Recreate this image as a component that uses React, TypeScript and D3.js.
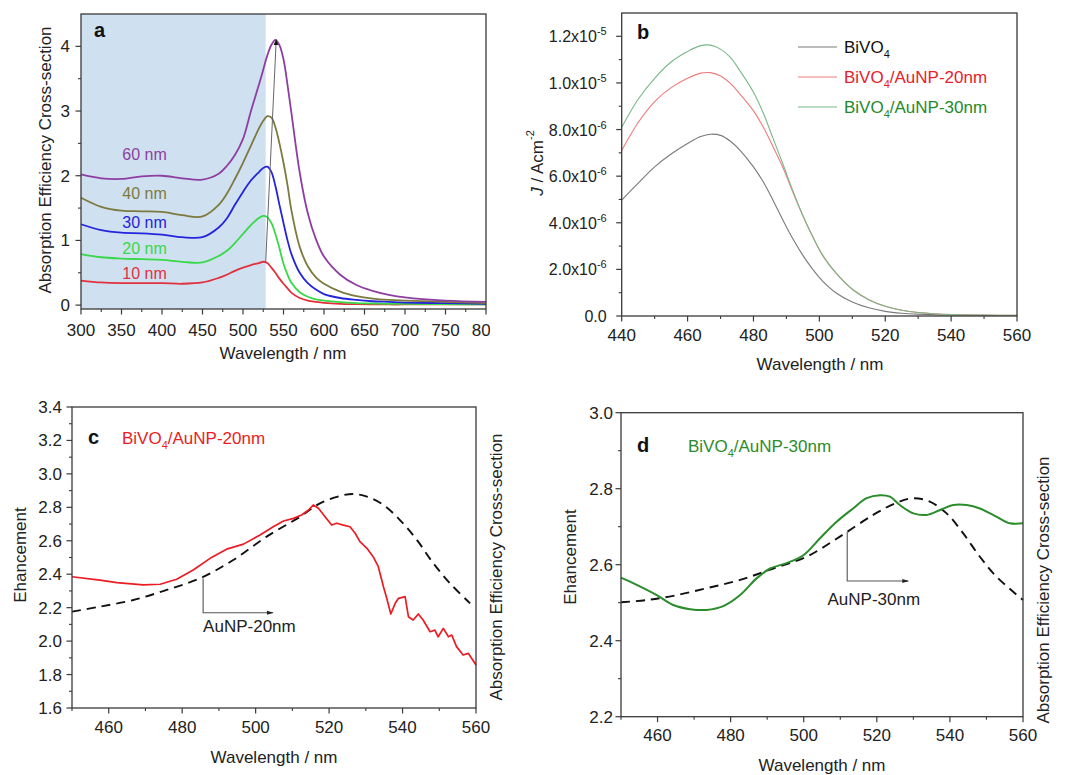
import React from "react";
import * as d3 from "d3";

const FONT = "'Liberation Sans', Arial, Helvetica, sans-serif";

// ---------------- Panel a : absorption efficiency ----------------
const waveA = [300, 325, 350, 375, 400, 425, 450, 470, 480, 490, 500, 510, 520, 525, 530, 535, 540, 545, 550, 555, 560, 570, 580, 590, 600, 620, 640, 660, 680, 700, 750, 800];
const absA10 = [0.38, 0.35, 0.34, 0.34, 0.34, 0.33, 0.35, 0.42, 0.47, 0.53, 0.58, 0.62, 0.65, 0.67, 0.65, 0.58, 0.50, 0.41, 0.33, 0.26, 0.19, 0.11, 0.07, 0.05, 0.035, 0.02, 0.015, 0.012, 0.01, 0.01, 0.01, 0.01];
const absA20 = [0.79, 0.74, 0.72, 0.71, 0.70, 0.67, 0.66, 0.76, 0.84, 0.96, 1.10, 1.24, 1.35, 1.38, 1.36, 1.27, 1.10, 0.88, 0.64, 0.47, 0.34, 0.20, 0.13, 0.09, 0.07, 0.045, 0.03, 0.025, 0.02, 0.018, 0.014, 0.01];
const absA30 = [1.25, 1.16, 1.12, 1.11, 1.09, 1.05, 1.05, 1.20, 1.34, 1.55, 1.75, 1.93, 2.06, 2.12, 2.14, 2.06, 1.84, 1.55, 1.27, 1.00, 0.78, 0.50, 0.34, 0.24, 0.17, 0.11, 0.08, 0.06, 0.05, 0.04, 0.03, 0.02];
const absA40 = [1.66, 1.52, 1.46, 1.45, 1.44, 1.39, 1.37, 1.55, 1.72, 1.95, 2.20, 2.47, 2.74, 2.85, 2.92, 2.90, 2.75, 2.50, 2.20, 1.85, 1.45, 0.90, 0.60, 0.43, 0.33, 0.21, 0.14, 0.10, 0.08, 0.07, 0.05, 0.03];
const absA60 = [2.02, 1.96, 1.95, 1.99, 2.00, 1.96, 1.94, 2.03, 2.15, 2.32, 2.57, 3.01, 3.42, 3.64, 3.86, 4.02, 4.10, 4.02, 3.80, 3.40, 2.95, 2.05, 1.42, 1.02, 0.75, 0.47, 0.31, 0.22, 0.16, 0.12, 0.07, 0.05];
const seriesA = [absA10, absA20, absA30, absA40, absA60];
const labelsA = ["10 nm", "20 nm", "30 nm", "40 nm", "60 nm"];
const colorsA = ["#e2303c", "#38d848", "#2424dc", "#7c7a3e", "#8e3ea0"];
const labelValA = [0.40, 0.79, 1.19, 1.64, 2.25];
const xTicksA = [300, 350, 400, 450, 500, 550, 600, 650, 700, 750, 800];
const yTicksA = [0, 1, 2, 3, 4];
const shadeEndA = 528;
const peakArrowA = [[528, 0.67], [541, 4.1]];

// ---------------- Panel b : photocurrent ----------------
const waveB = [440, 445, 450, 455, 460, 464, 467, 470, 473, 476, 480, 483, 486, 489, 492, 495, 498, 501, 505, 510, 515, 520, 525, 530, 540, 550, 560];
const jBiVO4 = [4.97e-6, 5.7e-6, 6.4e-6, 6.95e-6, 7.4e-6, 7.7e-6, 7.8e-6, 7.75e-6, 7.5e-6, 7.1e-6, 6.4e-6, 5.75e-6, 4.95e-6, 4.1e-6, 3.3e-6, 2.6e-6, 2.0e-6, 1.5e-6, 1.0e-6, 0.6e-6, 0.35e-6, 0.2e-6, 0.12e-6, 0.08e-6, 0.04e-6, 0.02e-6, 0.02e-6];
const jAu20 = [7.1e-6, 8.3e-6, 9.2e-6, 9.8e-6, 10.2e-6, 10.42e-6, 10.44e-6, 10.3e-6, 9.98e-6, 9.5e-6, 8.8e-6, 8.1e-6, 7.25e-6, 6.35e-6, 5.3e-6, 4.3e-6, 3.4e-6, 2.6e-6, 1.85e-6, 1.15e-6, 0.7e-6, 0.42e-6, 0.25e-6, 0.15e-6, 0.06e-6, 0.04e-6, 0.03e-6];
const jAu30 = [8.1e-6, 9.3e-6, 10.2e-6, 10.9e-6, 11.35e-6, 11.6e-6, 11.62e-6, 11.45e-6, 11.1e-6, 10.5e-6, 9.6e-6, 8.7e-6, 7.6e-6, 6.5e-6, 5.35e-6, 4.3e-6, 3.4e-6, 2.6e-6, 1.85e-6, 1.15e-6, 0.7e-6, 0.42e-6, 0.25e-6, 0.15e-6, 0.06e-6, 0.04e-6, 0.03e-6];
const seriesB = [jBiVO4, jAu20, jAu30];
const lineColorsB = ["#7a7a7a", "#f07a7a", "#78b888"];
const textColorsB = ["#111111", "#e8202c", "#1f8a2c"];
const legendB = [["BiVO", "4", ""], ["BiVO", "4", "/AuNP-20nm"], ["BiVO", "4", "/AuNP-30nm"]];
const xTicksB = [440, 460, 480, 500, 520, 540, 560];
const yTicksB = [0, 2e-6, 4e-6, 6e-6, 8e-6, 1.0e-5, 1.2e-5];
const yTickLabelsB = [["0.0", ""], ["2.0x10", "-6"], ["4.0x10", "-6"], ["6.0x10", "-6"], ["8.0x10", "-6"], ["1.0x10", "-5"], ["1.2x10", "-5"]];

// ---------------- Panel c : enhancement 20 nm ----------------
const waveCRed = [450, 457.6, 462.2, 469.4, 474, 478.5, 483, 487.6, 492.1, 496.7, 501.2, 504.8, 507.6, 510.3, 512.5, 514.4, 515.7, 517.1, 518.9, 520.7, 522.1, 523.9, 525.7, 527.1, 528.4, 530.3, 532, 533.4, 534.8, 535.7, 536.8, 538, 538.9, 540.7, 541.6, 542.9, 544.3, 545.6, 547.5, 548.8, 549.7, 551.1, 552.5, 553.4, 554.7, 556.5, 557.9, 560];
const enhC = [2.385, 2.365, 2.35, 2.336, 2.34, 2.37, 2.425, 2.495, 2.55, 2.58, 2.635, 2.684, 2.718, 2.734, 2.754, 2.784, 2.814, 2.794, 2.744, 2.694, 2.705, 2.694, 2.684, 2.645, 2.595, 2.555, 2.505, 2.445, 2.325, 2.256, 2.162, 2.226, 2.256, 2.266, 2.146, 2.126, 2.162, 2.126, 2.056, 2.066, 2.026, 2.076, 2.026, 2.036, 1.967, 1.917, 1.927, 1.857];
const waveCDash = [450, 457.6, 466.7, 475.8, 484.9, 493.9, 503, 512.1, 517.5, 523, 526.6, 530.3, 534.8, 539.3, 543.9, 548.4, 552.9, 558.4];
const absC = [2.176, 2.206, 2.246, 2.306, 2.376, 2.485, 2.625, 2.744, 2.824, 2.868, 2.88, 2.864, 2.814, 2.724, 2.605, 2.465, 2.346, 2.226];
const xTicksCD = [460, 480, 500, 520, 540, 560];
const yTicksC = [1.6, 1.8, 2.0, 2.2, 2.4, 2.6, 2.8, 3.0, 3.2, 3.4];
const annoC = { x: 485.7, y0: 2.375, y1: 2.17, x1: 504.7, tx: 485.7, ty: 2.055, text: "AuNP-20nm" };

// ---------------- Panel d : enhancement 30 nm ----------------
const waveDGreen = [450, 454.3, 459.8, 464.3, 468.9, 473.4, 478, 482.6, 487.1, 490.8, 495.3, 499.9, 504.4, 509, 513.5, 517.2, 520.9, 523.6, 526.3, 530, 533.6, 537.3, 540.9, 544.6, 548.2, 552.8, 556.4, 560];
const enhD = [2.566, 2.547, 2.52, 2.494, 2.483, 2.481, 2.491, 2.52, 2.564, 2.59, 2.604, 2.625, 2.669, 2.713, 2.748, 2.775, 2.783, 2.779, 2.757, 2.735, 2.731, 2.744, 2.757, 2.757, 2.748, 2.726, 2.709, 2.709];
const waveDDash = [450, 457, 464.3, 473.4, 482.6, 491.7, 500.8, 509.9, 519, 525.4, 530, 534.5, 539.1, 543.6, 548.2, 552.8, 560];
const absD = [2.501, 2.507, 2.518, 2.538, 2.56, 2.59, 2.621, 2.674, 2.731, 2.763, 2.775, 2.766, 2.735, 2.683, 2.621, 2.568, 2.507];
const yTicksD = [2.2, 2.4, 2.6, 2.8, 3.0];
const annoD = { x: 511.9, y0: 2.687, y1: 2.557, x1: 528.6, tx: 506.5, ty: 2.494, text: "AuNP-30nm" };

const AX = "#3a3a3a";
const fmt1 = d3.format(".1f");

type Frame = { l: number; r: number; t: number; b: number };

function Box({ f }: { f: Frame }) {
  return <rect x={f.l} y={f.t} width={f.r - f.l} height={f.b - f.t} fill="none" stroke={AX} strokeWidth={1.3} />;
}

function XTicks({ x, f, major, minor, labelDy, clip, fontSize = 17 }: any) {
  return (
    <g>
      {minor.map((v: number) => (
        <line key={"m" + v} x1={x(v)} x2={x(v)} y1={f.b} y2={f.b + 3} stroke={AX} strokeWidth={1.1} />
      ))}
      {major.map((v: number) => (
        <line key={"M" + v} x1={x(v)} x2={x(v)} y1={f.b} y2={f.b + 5.5} stroke={AX} strokeWidth={1.2} />
      ))}
      <g clipPath={clip ? `url(#${clip})` : undefined}>
        {major.map((v: number) => (
          <text key={"t" + v} x={x(v)} y={f.b + labelDy} textAnchor="middle" fontSize={fontSize} fill="#222">
            {v}
          </text>
        ))}
      </g>
    </g>
  );
}

function YTicks({ y, f, major, minor, gap, fmt, fontSize = 17 }: any) {
  return (
    <g>
      {minor.map((v: number) => (
        <line key={"m" + v} x1={f.l - 3} x2={f.l} y1={y(v)} y2={y(v)} stroke={AX} strokeWidth={1.1} />
      ))}
      {major.map((v: number, i: number) => (
        <g key={"M" + v}>
          <line x1={f.l - 5.5} x2={f.l} y1={y(v)} y2={y(v)} stroke={AX} strokeWidth={1.2} />
          <text x={f.l - gap} y={y(v) + 6} textAnchor="end" fontSize={fontSize} fill="#222">
            {fmt ? fmt(v, i) : v}
          </text>
        </g>
      ))}
    </g>
  );
}

function range(a: number, b: number, s: number) {
  return d3.range(a, b + s / 2, s).map((v) => +v.toFixed(10));
}

function PanelA() {
  const f: Frame = { l: 81, r: 486, t: 14, b: 309 };
  const x = d3.scaleLinear().domain([300, 800]).range([f.l, f.r]);
  const y = d3.scaleLinear().domain([-0.06, 4.5]).range([f.b, f.t]);
  const line = d3
    .line<number>()
    .x((_, i) => x(waveA[i]))
    .y((d) => y(d))
    .curve(d3.curveCatmullRom.alpha(0.5));
  const minorX = range(325, 775, 50);
  const minorY = [0.5, 1.5, 2.5, 3.5];
  return (
    <g>
      <defs>
        <clipPath id="clipA">
          <rect x={0} y={0} width={490} height={400} />
        </clipPath>
        <marker id="arrA" viewBox="0 0 10 10" refX={9} refY={5} markerWidth={6} markerHeight={6} orient="auto">
          <path d="M0,1 L10,5 L0,9 z" fill="#111" />
        </marker>
      </defs>
      <rect x={f.l} y={f.t} width={x(shadeEndA) - f.l} height={f.b - f.t} fill="#cfe0f1" />
      {seriesA.map((s, i) => (
        <path key={i} d={line(s) || ""} fill="none" stroke={colorsA[i]} strokeWidth={1.8} />
      ))}
      <line
        x1={x(peakArrowA[0][0])}
        y1={y(peakArrowA[0][1])}
        x2={x(peakArrowA[1][0])}
        y2={y(peakArrowA[1][1])}
        stroke="#666"
        strokeWidth={1}
        markerEnd="url(#arrA)"
      />
      {labelsA.map((t, i) => (
        <text key={t} x={x(351)} y={y(labelValA[i])} fontSize={16} fill={colorsA[i]}>
          {t}
        </text>
      ))}
      <Box f={f} />
      <XTicks x={x} f={f} major={xTicksA} minor={minorX} labelDy={27} clip="clipA" />
      <YTicks y={y} f={f} major={yTicksA} minor={minorY} gap={11} />
      <text x={94} y={37} fontSize={20} fontWeight="bold" fill="#111">
        a
      </text>
      <text x={283} y={359} textAnchor="middle" fontSize={17} fill="#222">
        Wavelength / nm
      </text>
      <text transform="translate(45,160) rotate(-90)" textAnchor="middle" dominantBaseline="central" fontSize={17} fill="#222">
        Absorption Efficiency Cross-section
      </text>
    </g>
  );
}

function PanelB() {
  const f: Frame = { l: 621.7, r: 1017, t: 13, b: 316 };
  const x = d3.scaleLinear().domain([440, 560]).range([f.l, f.r]);
  const y = d3.scaleLinear().domain([0, 1.3e-5]).range([f.b, f.t]);
  const line = d3
    .line<number>()
    .x((_, i) => x(waveB[i]))
    .y((d) => y(d))
    .curve(d3.curveCatmullRom.alpha(0.5));
  const minorX = range(450, 550, 20);
  const minorY = range(1e-6, 1.1e-5, 2e-6);
  return (
    <g>
      {seriesB.map((s, i) => (
        <path key={i} d={line(s) || ""} fill="none" stroke={lineColorsB[i]} strokeWidth={1.1} />
      ))}
      <Box f={f} />
      <XTicks x={x} f={f} major={xTicksB} minor={minorX} labelDy={25} />
      <YTicks
        y={y}
        f={f}
        major={yTicksB}
        minor={minorY}
        gap={15}
        fontSize={16}
        fmt={(v: number, i: number) => (
          <>
            {yTickLabelsB[i][0]}
            {yTickLabelsB[i][1] ? (
              <tspan dy={-7} fontSize={11}>
                {yTickLabelsB[i][1]}
              </tspan>
            ) : null}
          </>
        )}
      />
      {legendB.map((l, i) => (
        <g key={i}>
          <line x1={798} x2={837} y1={47 + i * 30} y2={47 + i * 30} stroke={lineColorsB[i]} strokeWidth={1.2} />
          <text x={844} y={53 + i * 30} fontSize={17} fill={textColorsB[i]}>
            {l[0]}
            <tspan dy={5} fontSize={11}>
              {l[1]}
            </tspan>
            <tspan dy={-5}>{l[2]}</tspan>
          </text>
        </g>
      ))}
      <text x={637} y={39} fontSize={20} fontWeight="bold" fill="#111">
        b
      </text>
      <text x={820} y={370} textAnchor="middle" fontSize={17} fill="#222">
        Wavelength / nm
      </text>
      <text transform="translate(537,163) rotate(-90)" textAnchor="middle" dominantBaseline="central" fontSize={17} fill="#222">
        <tspan fontStyle="italic">J</tspan> / Acm
        <tspan dy={-7} fontSize={11}>
          -2
        </tspan>
      </text>
    </g>
  );
}

function EnhPanel({ f, yDom, yTicks, minorY, wave, enh, waveDash, dash, color, anno, letter, title, letterX, titleX, labelY, xTitleY, yTitleX, yTitleY, rTitleX, rTitleY, yGap, xLabDy, smooth }: any) {
  const x = d3.scaleLinear().domain([450, 560]).range([f.l, f.r]);
  const y = d3.scaleLinear().domain(yDom).range([f.b, f.t]);
  const solid = d3
    .line<number>()
    .x((_, i) => x(wave[i]))
    .y((d) => y(d))
    .curve(smooth ? d3.curveCatmullRom.alpha(0.5) : d3.curveLinear);
  const dashed = d3
    .line<number>()
    .x((_, i) => x(waveDash[i]))
    .y((d) => y(d))
    .curve(d3.curveCatmullRom.alpha(0.5));
  const minorX = range(450, 550, 20);
  const id = "arr" + letter;
  return (
    <g>
      <defs>
        <marker id={id} viewBox="0 0 10 10" refX={9} refY={5} markerWidth={7} markerHeight={6} orient="auto">
          <path d="M0,2 L10,5 L0,8 z" fill="#222" />
        </marker>
      </defs>
      <path d={dashed(dash) || ""} fill="none" stroke="#111" strokeWidth={1.9} strokeDasharray="9,6" />
      <path d={solid(enh) || ""} fill="none" stroke={color} strokeWidth={smooth ? 2 : 1.7} strokeLinejoin="round" />
      <path
        d={`M${x(anno.x)},${y(anno.y0)} L${x(anno.x)},${y(anno.y1)} L${x(anno.x1)},${y(anno.y1)}`}
        fill="none"
        stroke="#555"
        strokeWidth={1.1}
        markerEnd={`url(#${id})`}
      />
      <text x={x(anno.tx)} y={y(anno.ty)} fontSize={17} fill="#222">
        {anno.text}
      </text>
      <Box f={f} />
      <XTicks x={x} f={f} major={xTicksCD} minor={minorX} labelDy={xLabDy} />
      <YTicks y={y} f={f} major={yTicks} minor={minorY} gap={yGap} fmt={(v: number) => fmt1(v)} />
      <text x={letterX} y={labelY} fontSize={20} fontWeight="bold" fill="#111">
        {letter}
      </text>
      <text x={titleX} y={labelY} fontSize={17} fill={color}>
        BiVO
        <tspan dy={5} fontSize={11}>
          4
        </tspan>
        <tspan dy={-5}>{title}</tspan>
      </text>
      <text x={(f.l + f.r) / 2} y={xTitleY} textAnchor="middle" fontSize={17} fill="#222">
        Wavelength / nm
      </text>
      <text transform={`translate(${yTitleX},${yTitleY}) rotate(-90)`} textAnchor="middle" dominantBaseline="central" fontSize={17} fill="#222">
        Ehancement
      </text>
      <text transform={`translate(${rTitleX},${rTitleY}) rotate(-90)`} textAnchor="middle" dominantBaseline="central" fontSize={17} fill="#222">
        Absorption Efficiency Cross-section
      </text>
    </g>
  );
}

export default function App() {
  return (
    <svg
      width={1067}
      height={775}
      style={{ position: "absolute", left: 0, top: 0, background: "#fff" }}
      fontFamily={FONT}
    >
      <rect x={0} y={0} width={1067} height={775} fill="#fff" />
      <PanelA />
      <PanelB />
      <EnhPanel
        f={{ l: 72, r: 476, t: 407, b: 708 }}
        yDom={[1.6, 3.4]}
        yTicks={yTicksC}
        minorY={range(1.7, 3.3, 0.2)}
        wave={waveCRed}
        enh={enhC}
        waveDash={waveCDash}
        dash={absC}
        color="#ea1c24"
        anno={annoC}
        letter="c"
        title="/AuNP-20nm"
        letterX={88}
        titleX={122}
        labelY={444}
        xTitleY={763}
        yTitleX={20}
        yTitleY={555}
        rTitleX={496}
        rTitleY={567}
        yGap={10}
        xLabDy={25}
        smooth={false}
      />
      <EnhPanel
        f={{ l: 621, r: 1023, t: 412.7, b: 716.7 }}
        yDom={[2.2, 3.0]}
        yTicks={yTicksD}
        minorY={range(2.3, 2.9, 0.2)}
        wave={waveDGreen}
        enh={enhD}
        waveDash={waveDDash}
        dash={absD}
        color="#2a8c2a"
        anno={annoD}
        letter="d"
        title="/AuNP-30nm"
        letterX={637}
        titleX={688}
        labelY={452}
        xTitleY={771}
        yTitleX={570}
        yTitleY={557}
        rTitleX={1043}
        rTitleY={590}
        yGap={8}
        xLabDy={24}
        smooth={true}
      />
    </svg>
  );
}
